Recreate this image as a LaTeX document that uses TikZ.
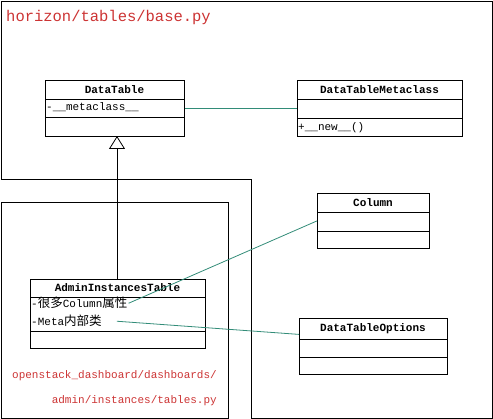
\documentclass[tikz,border=0pt]{standalone}
\usepackage{fontspec}
\setmonofont{Liberation Mono}
\newfontfamily\cjk{Noto Sans CJK SC}
\usetikzlibrary{arrows.meta}
\definecolor{pathred}{RGB}{204,51,51}
\definecolor{assoc}{RGB}{50,140,120}
\newcommand{\cj}[1]{{\cjk\fontsize{12.5}{13}\selectfont #1}}
\begin{document}
\begin{tikzpicture}[x=1pt,y=-1pt,
  frame/.style={draw=black,line width=0.8pt},
  cls/.style={draw=black,line width=0.8pt,anchor=north west,inner sep=0pt,fill=white},
  cname/.style={font=\ttfamily\bfseries\fontsize{11}{12}\selectfont,inner sep=0pt},
  member/.style={font=\ttfamily\fontsize{11}{12}\selectfont,inner sep=0pt,anchor=base west},
  pathlbl/.style={font=\ttfamily\fontsize{11}{12}\selectfont,text=pathred,inner sep=0pt},
  sep/.style={draw=black,line width=0.8pt},
  link/.style={draw=assoc,line width=0.8pt}]
\useasboundingbox (0,0) rectangle (493,419);
% package frames
\draw[frame] (1,1) -- (492,1) -- (492,418) -- (251,418) -- (251,179) -- (1,179) -- cycle;
\draw[frame] (1,202) rectangle (228,418);
\node[font=\ttfamily\fontsize{15.5}{16}\selectfont,text=pathred,inner sep=0pt,anchor=base west] (title) at (6,22) {horizon/tables/base.py};
\node[pathlbl,anchor=east] (p1) at (217,376) {openstack\_dashboard/dashboards/};
\node[pathlbl,anchor=east] (p2) at (217,401) {admin/instances/tables.py};
% DataTable
\node[cls,minimum width=139pt,minimum height=56pt] (dt) at (45,80) {};
\draw[sep] (45,99) -- (184,99);
\draw[sep] (45,117) -- (184,117);
\node[cname] (dtn) at (114.5,89.5) {DataTable};
\node[member] (dta) at (46,111) {-\_\_metaclass\_\_};
% DataTableMetaclass
\node[cls,minimum width=165pt,minimum height=56pt] (dtm) at (297,80) {};
\draw[sep] (297,99) -- (462,99);
\draw[sep] (297,118) -- (462,118);
\node[cname] (dtmn) at (379.5,89.5) {DataTableMetaclass};
\node[member] (dtmm) at (298,131) {+\_\_new\_\_()};
% Column
\node[cls,minimum width=112pt,minimum height=55pt] (col) at (317,193) {};
\draw[sep] (317,212) -- (429,212);
\draw[sep] (317,231) -- (429,231);
\node[cname] (coln) at (373,202.5) {Column};
% AdminInstancesTable
\node[cls,minimum width=175pt,minimum height=69pt] (ait) at (30,279) {};
\draw[sep] (30,297) -- (205,297);
\draw[sep] (30,331) -- (205,331);
\node[cname] (aitn) at (117.5,288) {AdminInstancesTable};
\node[member] (a1) at (31,308) {-\cj{很多}Column\cj{属性}};
\node[member] (a2) at (31,326) {-Meta\cj{内部类}};
% DataTableOptions
\node[cls,minimum width=148pt,minimum height=56pt] (opt) at (299,318) {};
\draw[sep] (299,339) -- (447,339);
\draw[sep] (299,357) -- (447,357);
\node[cname] (optn) at (373,328.5) {DataTableOptions};
% connectors
\coordinate (gtop) at (117,136);
\coordinate (gbot) at (117,279);
\draw[line width=0.8pt,-{Triangle[open,length=13pt,width=16pt,line width=0.8pt]}] (gbot) -- (gtop);
\draw[link] ([xshift=1pt]a1.east) -- (col.west);
\draw[link] (dt.east) -- (dtm.west);
\draw[link] ([xshift=15pt]a2.east) -- ([yshift=12pt]opt.west);
\end{tikzpicture}
\end{document}
